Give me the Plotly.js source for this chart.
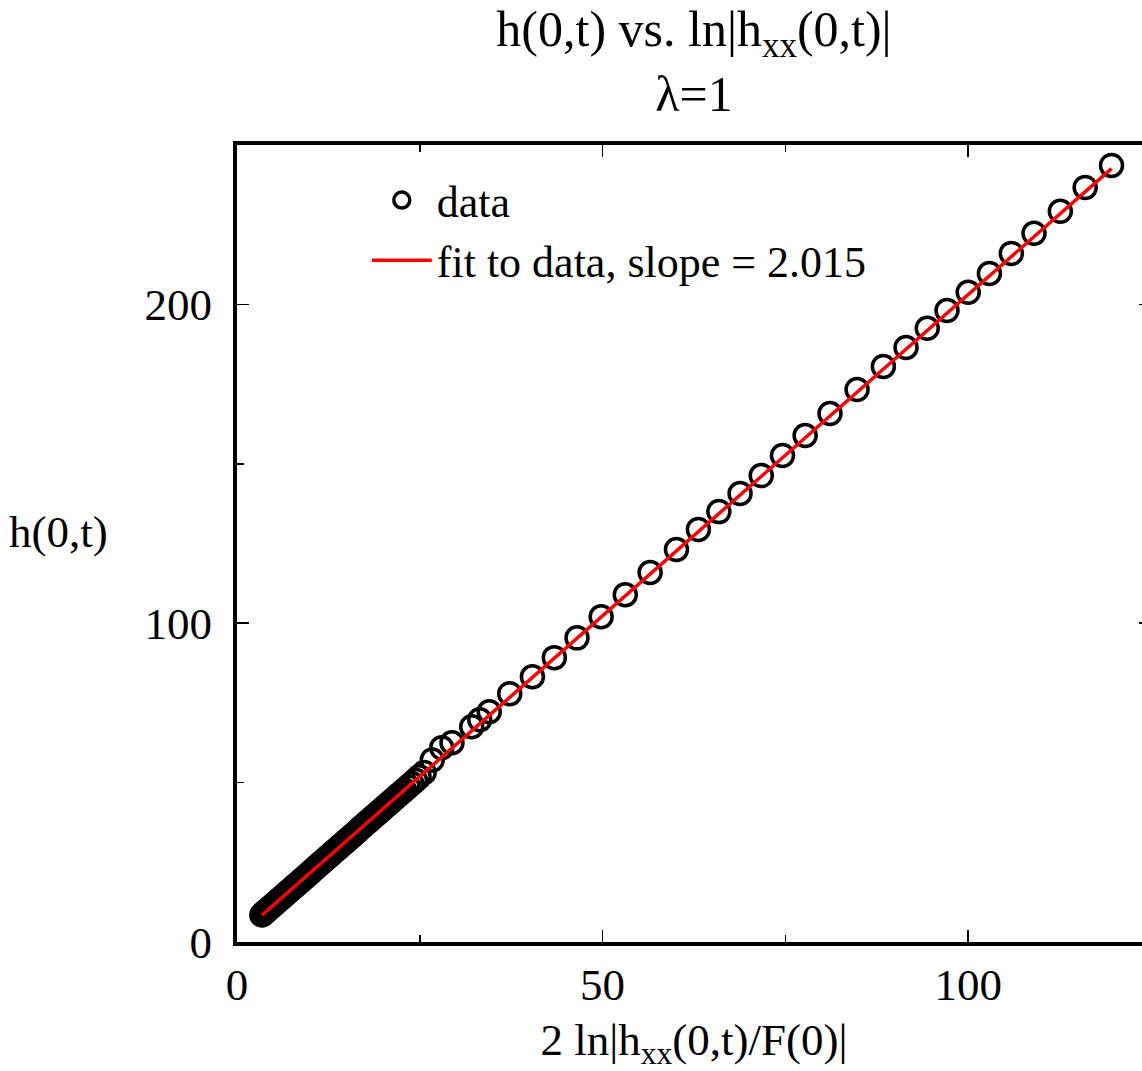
<!DOCTYPE html>
<html>
<head>
<meta charset="utf-8">
<script src="https://cdn.plot.ly/plotly-3.0.1.min.js"></script>
<style>
html,body{margin:0;padding:0;overflow:hidden;background:#fff;}
#chart{width:1151px;height:1071px;}
</style>
</head>
<body>
<div id="chart"></div>
<script>
// data points (x = 2 ln|h_xx(0,t)/F(0)|, y = h(0,t))
const dataX = [3.4,3.6,3.8,4.0,4.2,4.5,4.8,5.1,5.4,5.7,6.0,6.3,6.6,6.9,7.2,7.5,7.8,8.1,8.4,8.7,
  9.0,9.3,9.6,9.9,10.2,10.5,10.8,11.1,11.4,11.7,12.0,12.3,12.6,12.9,13.2,13.5,13.8,14.1,14.4,14.7,
  15.0,15.3,15.6,15.9,16.2,16.5,16.8,17.1,17.4,17.7,18.0,18.3,18.6,18.9,19.2,19.5,19.8,20.1,20.5,20.9,
  21.3,21.7,22.1,22.5,22.9,23.4,23.9,24.4,24.9,25.6,
  26.7,28.0,29.4,32.1,33.2,34.5,37.3,40.4,43.4,46.5,49.8,53.1,56.5,60.1,63.1,65.9,68.8,71.7,74.6,77.7,
  81.1,84.8,88.4,91.5,94.4,97.1,100.0,102.9,105.9,109.0,112.6,116.0,119.6];
const dataY = [8.5,8.9,9.3,9.7,10.1,10.7,11.3,11.9,12.5,13.1,13.7,14.3,14.9,15.5,16.1,16.7,17.3,17.9,18.5,19.1,
  19.7,20.3,20.9,21.5,22.1,22.8,23.4,24.0,24.6,25.2,25.8,26.4,27.0,27.6,28.2,28.8,29.4,30.0,30.6,31.2,
  31.8,32.4,33.0,33.6,34.2,34.8,35.5,36.1,36.7,37.3,37.9,38.5,39.1,39.7,40.3,40.9,41.5,42.1,42.9,43.7,
  44.5,45.3,46.1,46.9,47.7,48.7,49.7,50.7,51.8,53.2,
  57.1,60.9,62.5,67.5,69.7,72.2,77.9,83.2,89.2,95.4,102.0,108.9,115.9,123.1,129.4,135.0,140.7,146.3,152.6,158.9,
  165.8,173.3,180.5,186.5,192.5,198.1,203.8,209.7,216.0,222.3,229.2,236.7,243.6];
// linear fit endpoints
const fitX = [3.4, 119.6];
const fitY = [8.4, 242.6];
const slope = "2.015";

const serif = "Liberation Serif";

const traces = [
  {x: dataX, y: dataY, type: 'scatter', mode: 'markers', name: 'data',
   marker: {symbol: 'circle-open', size: 22, color: '#000', line: {width: 3.5, color: '#000'}}},
  {x: fitX, y: fitY, type: 'scatter', mode: 'lines', name: 'fit to data, slope = ' + slope,
   line: {color: '#ff0000', width: 3.5}}
];

const layout = {
  width: 1151, height: 1071,
  margin: {l: 237, r: 0, t: 145, b: 129},
  paper_bgcolor: '#fff', plot_bgcolor: '#fff',
  font: {family: serif, size: 45, color: '#000'},
  title: {text: 'h(0,t) vs. ln|h<sub>xx</sub>(0,t)|<br>λ=1', x: 0.5, xref: 'paper',
          y: 0.957, yref: 'container', yanchor: 'top',
          font: {family: serif, size: 50, color: '#000'}},
  showlegend: true,
  legend: {x: 0.142, y: 0.975, xanchor: 'left', yanchor: 'top', bgcolor: 'rgba(0,0,0,0)',
           font: {family: serif, size: 44, color: '#000'}, itemwidth: 60},
  xaxis: {range: [0, 125], showgrid: false, zeroline: false, showline: true, linecolor: '#000', linewidth: 4,
          mirror: 'allticks', ticks: 'inside', ticklen: 12, tickwidth: 1.5, tickcolor: '#000',
          tickvals: [0, 50, 100], ticktext: ['0', '50', '100'],
          minor: {tickvals: [25, 75, 125], ticks: 'inside', ticklen: 7, tickwidth: 1.5, tickcolor: '#000'},
          tickfont: {family: serif, size: 45}, ticklabelstandoff: 0,
          title: {text: '2 ln|h<sub>xx</sub>(0,t)/F(0)|', font: {family: serif, size: 45}, standoff: 24}},
  yaxis: {range: [0, 250], showgrid: false, zeroline: false, showline: true, linecolor: '#000', linewidth: 4,
          mirror: 'allticks', ticks: 'inside', ticklen: 12, tickwidth: 1.5, tickcolor: '#000',
          tickvals: [0, 100, 200], ticktext: ['0', '100', '200'],
          minor: {tickvals: [50, 150, 250], ticks: 'inside', ticklen: 7, tickwidth: 1.5, tickcolor: '#000'},
          tickfont: {family: serif, size: 45}, ticklabelstandoff: 12},
  annotations: [
    {text: 'h(0,t)', xref: 'paper', yref: 'paper', x: -0.252, y: 0.515, xanchor: 'left', yanchor: 'middle',
     showarrow: false, font: {family: serif, size: 45, color: '#000'}}
  ]
};

Plotly.newPlot('chart', traces, layout, {displayModeBar: false, staticPlot: true});
</script>
</body>
</html>
